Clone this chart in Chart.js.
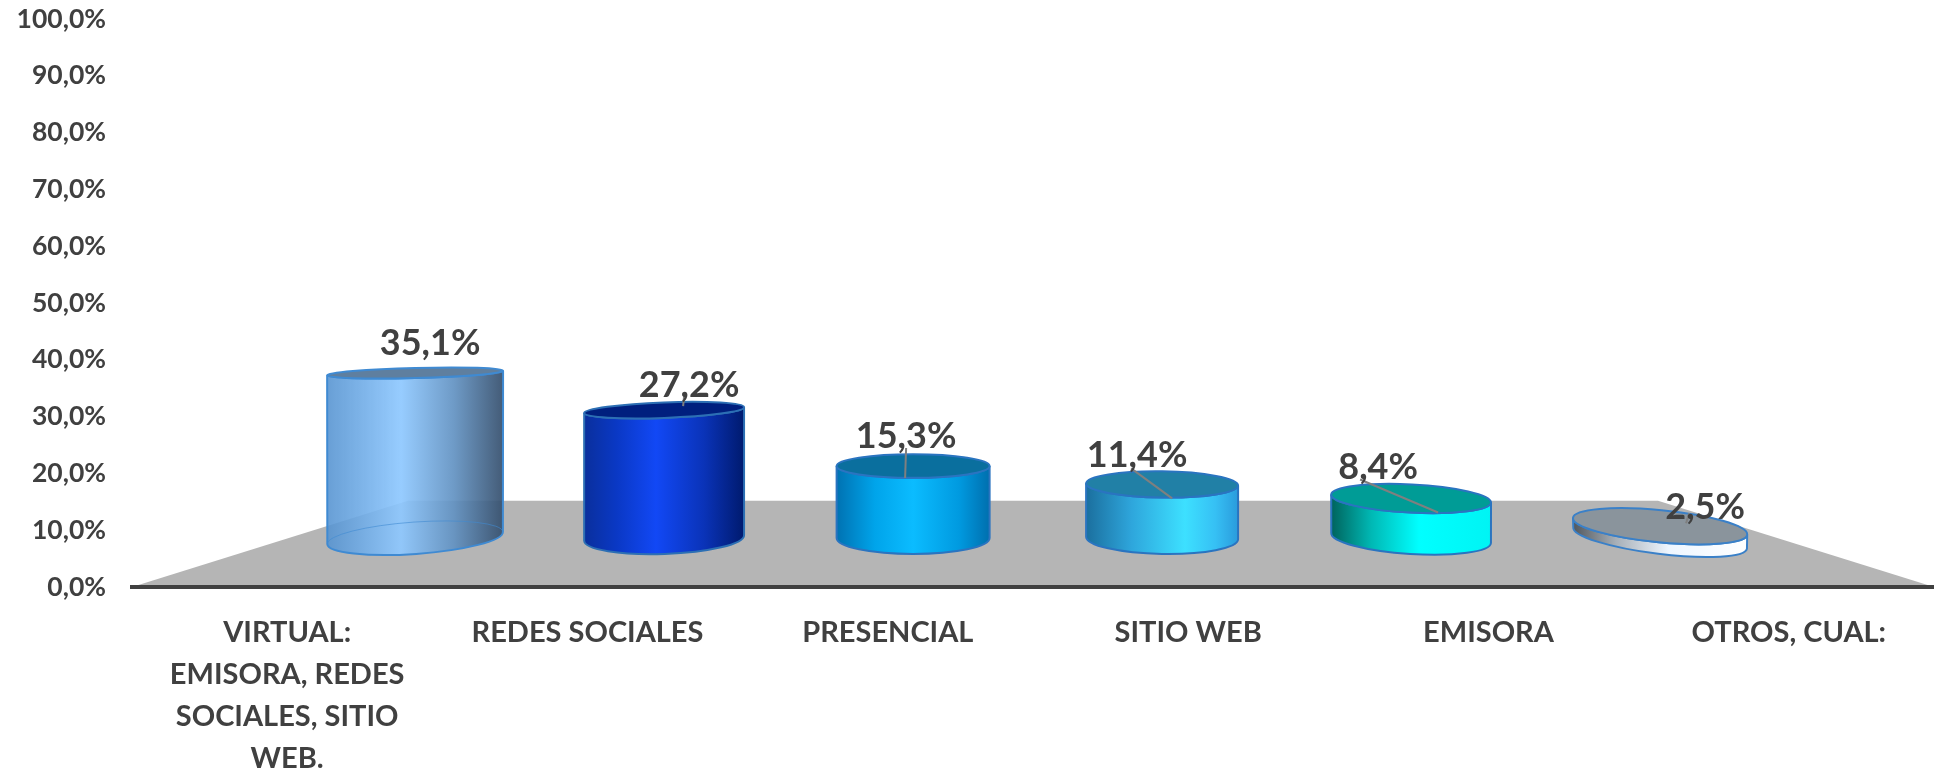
<!DOCTYPE html>
<html>
<head>
<meta charset="utf-8">
<style>
  html, body { margin: 0; padding: 0; background: #fff; overflow: hidden; }
  #wrap { position: relative; width: 1934px; height: 768px; }
</style>
<script src="https://cdn.jsdelivr.net/npm/chart.js@4/dist/chart.umd.js"></script>
</head>
<body>
<div id="wrap"><canvas id="chart" width="1934" height="768"></canvas></div>
<script>
// Chart data
var categories = [
    ["VIRTUAL:", "EMISORA, REDES", "SOCIALES, SITIO", "WEB."],
    "REDES SOCIALES", "PRESENCIAL", "SITIO WEB", "EMISORA", "OTROS, CUAL:"
];
var values = [35.1, 27.2, 15.3, 11.4, 8.4, 2.5];
var yTicks = [0, 10, 20, 30, 40, 50, 60, 70, 80, 90, 100];

// Cylinder look, one entry per bar
var bodyStops = [
    [[0, "rgba(84,146,208,0.88)"], [0.42, "rgba(142,200,255,0.92)"], [0.72, "rgba(98,146,194,0.92)"], [1, "rgba(52,78,108,0.92)"]],
    [[0, "#0a2f9c"], [0.2, "#0a38c4"], [0.45, "#1248f5"], [0.75, "#0a33b8"], [1, "#001a6e"]],
    [[0, "#0072b2"], [0.25, "#00a4ea"], [0.5, "#0bbcff"], [0.8, "#009ae0"], [1, "#006fae"]],
    [[0, "#1b6f9e"], [0.3, "#2ea6dc"], [0.65, "#3de0ff"], [0.85, "#36c0f4"], [1, "#2a9bdc"]],
    [[0, "#00635c"], [0.25, "#00b8b4"], [0.55, "#00ffff"], [1, "#00f4f4"]],
    [[0, "#50565c"], [0.25, "#a8b0b8"], [0.55, "#eef6ff"], [1, "#ffffff"]]
];
var capColors = ["#5f7f9f", "#001f7e", "#0a6f9e", "#2180a6", "#009c96", "#8a949c"];
var edgeColors = ["#3f8ad2", "#2c6fb4", "#2a74c0", "#2a74c0", "#2a74c0", "#3a80c8"];
var barWidths = [176, 160, 153, 152, 160, 175];
var topTilt = [-1.5, -2.1, 0, 0.8, 2.9, 5.5];
var baseTilt = [-4, -2, 0, 1, 3.6, 7];
var seeThrough = [true, false, false, false, false, false];

// Label offset from the centre of the cylinder top, and the small leader line
var labelOffsets = [[15, -30], [25, -25], [-7, -30], [-25, -29], [-33, -31], [45, -19]];
var leaders = [null, [20, -14, 19, -4], [-7, -18, -8, 12], [-31, -16, 10, 14], [-51, -19, 27, 14], [29, -13, 26, -3]];

var textColor = "#404040";
var fontFamily = "Lato, 'Open Sans', sans-serif";

// The ellipses open up towards the front of the picture
function ellipseDepth(y) {
    return 5 + (y - 372) * 0.072;
}

function rad(deg) {
    return deg * Math.PI / 180;
}

class CylinderElement extends Chart.BarElement {
    draw(ctx) {
        var i = this.$context.dataIndex;
        var p = this.getProps(["x", "y", "base"]);
        var rx = barWidths[i] / 2;
        var topRy = ellipseDepth(p.y);
        var baseRy = ellipseDepth(p.base) - 1;
        var topRot = rad(topTilt[i]);
        var baseRot = rad(baseTilt[i]);

        var grad = ctx.createLinearGradient(p.x - rx, 0, p.x + rx, 0);
        bodyStops[i].forEach(function (s) { grad.addColorStop(s[0], s[1]); });

        ctx.save();
        ctx.lineWidth = 2;
        ctx.strokeStyle = this.options.borderColor;

        // side of the cylinder, closed by the front half of both ellipses
        ctx.beginPath();
        ctx.ellipse(p.x, p.base, rx, baseRy, baseRot, Math.PI, 0, true);
        ctx.ellipse(p.x, p.y, rx, topRy, topRot, 0, Math.PI, false);
        ctx.closePath();
        ctx.fillStyle = grad;
        ctx.fill();
        ctx.stroke();

        if (seeThrough[i]) {
            ctx.beginPath();
            ctx.ellipse(p.x, p.base, rx, baseRy, baseRot, Math.PI, 0, false);
            ctx.lineWidth = 1;
            ctx.globalAlpha = 0.6;
            ctx.stroke();
            ctx.globalAlpha = 1;
            ctx.lineWidth = 2;
        }

        // top
        ctx.beginPath();
        ctx.ellipse(p.x, p.y, rx, topRy, topRot, 0, Math.PI * 2);
        ctx.fillStyle = this.options.backgroundColor;
        ctx.fill();
        ctx.stroke();
        ctx.restore();
    }
}
CylinderElement.id = "cylinder";
CylinderElement.defaults = Chart.BarElement.defaults;

class CylinderController extends Chart.BarController {}
CylinderController.id = "cylinder";
CylinderController.defaults = Object.assign({}, Chart.BarController.defaults, { dataElementType: "cylinder" });
CylinderController.overrides = Chart.BarController.overrides;

Chart.register(CylinderElement, CylinderController);

// Grey floor behind the cylinders
var floorPlugin = {
    id: "floor",
    beforeDraw: function (chart) {
        var area = chart.chartArea;
        var top = chart.scales.y.getPixelForValue(15.2);
        var inset = 276;
        var ctx = chart.ctx;
        ctx.save();
        ctx.beginPath();
        ctx.moveTo(area.left, area.bottom);
        ctx.lineTo(area.left + inset, top);
        ctx.lineTo(area.right - inset, top);
        ctx.lineTo(area.right, area.bottom);
        ctx.closePath();
        ctx.fillStyle = "#b5b5b5";
        ctx.fill();
        ctx.restore();
    }
};

// Percentages over the bars
var valueLabelsPlugin = {
    id: "valueLabels",
    afterDatasetsDraw: function (chart) {
        var ctx = chart.ctx;
        var bars = chart.getDatasetMeta(0).data;
        ctx.save();
        bars.forEach(function (bar, i) {
            var l = leaders[i];
            if (l) {
                ctx.beginPath();
                ctx.moveTo(bar.x + l[0], bar.y + l[1]);
                ctx.lineTo(bar.x + l[2], bar.y + l[3]);
                ctx.lineWidth = 2;
                ctx.strokeStyle = "#7f7f7f";
                ctx.stroke();
            }
        });
        ctx.font = "700 36px " + fontFamily;
        ctx.fillStyle = textColor;
        ctx.textAlign = "center";
        ctx.textBaseline = "middle";
        bars.forEach(function (bar, i) {
            var text = values[i].toFixed(1).replace(".", ",") + "%";
            ctx.fillText(text, bar.x + labelOffsets[i][0], bar.y + labelOffsets[i][1]);
        });
        ctx.restore();
    }
};

var barPoints = values.map(function (v, i) {
    return { x: i, y: v };
});

var ctx = document.getElementById("chart").getContext("2d");

new Chart(ctx, {
    type: "cylinder",
    plugins: [floorPlugin, valueLabelsPlugin],
    data: {
        labels: categories,
        datasets: [{
            label: "Porcentaje",
            data: barPoints,
            xAxisID: "xBars",
            yAxisID: "yBars",
            barThickness: 160,
            backgroundColor: capColors,
            borderColor: edgeColors
        }]
    },
    options: {
        responsive: false,
        animation: false,
        layout: { padding: { top: 19, left: 0, right: 0, bottom: 0 } },
        plugins: {
            legend: { display: false },
            title: { display: false },
            tooltip: { enabled: false }
        },
        scales: {
            x: {
                type: "category",
                labels: categories,
                offset: true,
                position: "bottom",
                afterFit: function (scale) { scale.height = 181; },
                grid: { display: false, drawTicks: false },
                border: { display: true, color: textColor, width: 4 },
                ticks: {
                    color: textColor,
                    maxRotation: 0,
                    autoSkip: false,
                    padding: 25,
                    labelOffset: 5,
                    font: { family: fontFamily, weight: "700", size: 29, lineHeight: 1.44 }
                }
            },
            y: {
                min: 0,
                max: 100,
                position: "left",
                afterFit: function (scale) {
                    scale.width = 132;
                    // tick padding would otherwise push the plot top down
                    scale.paddingTop = 0;
                    scale.paddingBottom = 0;
                },
                afterBuildTicks: function (scale) {
                    scale.ticks = yTicks.map(function (v) { return { value: v }; });
                },
                grid: { display: false, drawTicks: false },
                border: { display: false },
                ticks: {
                    color: textColor,
                    padding: 26,
                    font: { family: fontFamily, weight: "700", size: 26.5 },
                    callback: function (v) { return v.toFixed(1).replace(".", ",") + "%"; }
                }
            },
            // Bars sit on the 3D floor, so they use their own hidden scales
            xBars: { type: "linear", display: false, offset: false, min: -1.137, max: 6.1 },
            yBars: { type: "linear", display: false, min: -10.43, max: 110.43 }
        }
    }
});
</script>
</body>
</html>
